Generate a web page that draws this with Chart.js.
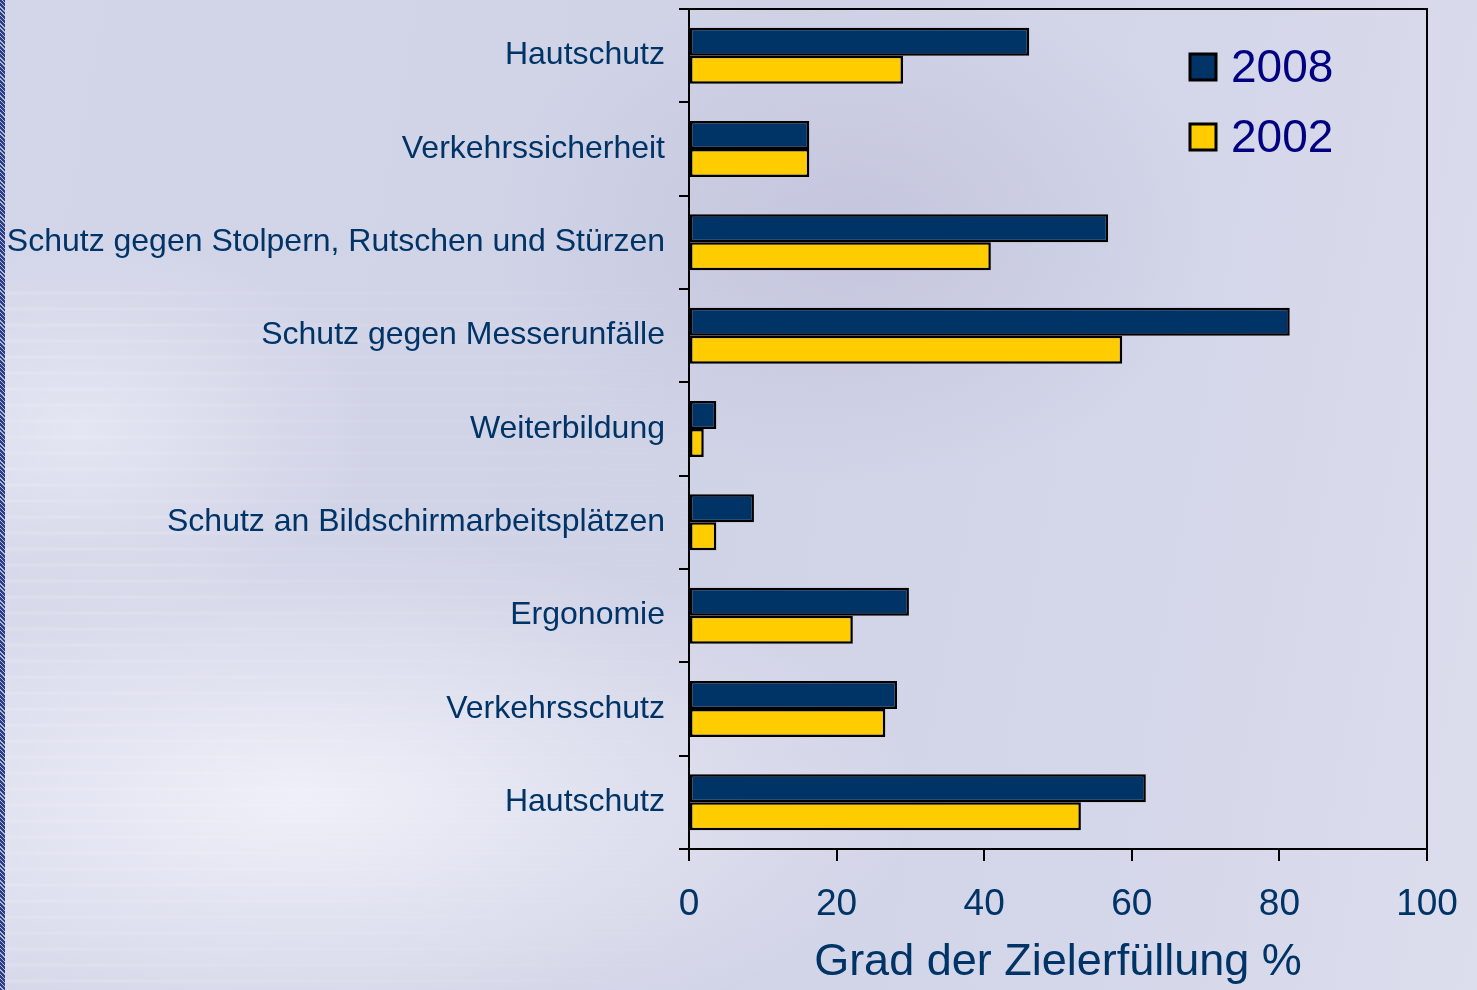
<!DOCTYPE html>
<html lang="de">
<head>
<meta charset="UTF-8">
<title>Grad der Zielerfüllung</title>
<style>
  html,body{margin:0;padding:0;width:1477px;height:990px;overflow:hidden}
  body{
    position:relative;
    background:
      radial-gradient(ellipse 520px 360px at 860px 230px, rgba(186,187,214,.55), rgba(186,187,214,0) 70%),
      radial-gradient(ellipse 780px 330px at 300px 800px, rgba(240,241,249,.95), rgba(240,241,249,0) 80%),
      radial-gradient(ellipse 380px 260px at 80px 430px, rgba(232,234,245,.8), rgba(232,234,245,0) 75%),
      linear-gradient(100deg,#d3d5e9 0%,#d0d2e6 45%,#d4d6e9 75%,#dcdeee 100%);
  }
  #streaks{
    position:absolute;left:0;top:280px;width:850px;height:710px;
    background:repeating-linear-gradient(to bottom,rgba(255,255,255,0) 0 10px,rgba(255,255,255,.16) 13px,rgba(255,255,255,0) 16px);
    -webkit-mask-image:linear-gradient(to right,#000 0%,rgba(0,0,0,.5) 45%,transparent 100%);
    mask-image:linear-gradient(to right,#000 0%,rgba(0,0,0,.5) 45%,transparent 100%);
  }
  #rand{
    position:absolute;left:0;top:0;width:5px;height:990px;
    background:
      repeating-linear-gradient(45deg,#2c3f86 0 2px,#aeb6d6 2px 3px),
      #3b4e92;
  }
  #wrap{position:absolute;left:0;top:0;width:1477px;height:990px}
</style>
</head>
<body>
<div id="streaks"></div>
<div id="rand"></div>
<div id="wrap"><canvas id="chart" width="1477" height="990"></canvas></div>

<script src="https://cdn.jsdelivr.net/npm/chart.js@4.4.0"></script>
<script>
/* ---------- Daten ---------- */
const kategorien = [
  'Hautschutz',
  'Verkehrssicherheit',
  'Schutz gegen Stolpern, Rutschen und Stürzen',
  'Schutz gegen Messerunfälle',
  'Weiterbildung',
  'Schutz an Bildschirmarbeitsplätzen',
  'Ergonomie',
  'Verkehrsschutz',
  'Hautschutz'
];
const werte2008 = [46.1, 16.3, 56.8, 81.4, 3.7, 8.8, 29.8, 28.2, 61.9];
const werte2002 = [29.0, 16.3, 40.9, 58.7, 2.0, 3.7, 22.2, 26.6, 53.1];
const jahre     = ['2008', '2002'];
const achsenTitel = 'Grad der Zielerfüllung %';

/* ---------- Stil ---------- */
const BLAU = '#003366', GELB = '#ffcc00', TEXT = '#003366';
const FONT = '"Liberation Sans", Arial, sans-serif';

/* Rahmen rechts/oben um die Zeichenfläche */
const rahmen = {
  id:'rahmen',
  afterDatasetsDraw(chart){
    const {ctx, chartArea:a} = chart;
    ctx.save();
    ctx.strokeStyle = '#000'; ctx.lineWidth = 2;
    ctx.beginPath();
    ctx.moveTo(a.left, a.top); ctx.lineTo(a.right, a.top);
    ctx.lineTo(a.right, a.bottom);
    ctx.stroke();
    ctx.restore();
  }
};

/* Legende innerhalb der Zeichenfläche */
const legende = {
  id:'legende',
  afterDatasetsDraw(chart){
    const {ctx} = chart;
    ctx.save();
    ctx.font = '46px ' + FONT;
    ctx.textBaseline = 'middle';
    chart.data.datasets.forEach((ds, i) => {
      const y = 67 + i * 70;
      ctx.fillStyle = ds.backgroundColor;
      ctx.strokeStyle = '#000'; ctx.lineWidth = 3;
      ctx.fillRect(1190, y - 13, 26, 26);
      ctx.strokeRect(1190, y - 13, 26, 26);
      ctx.fillStyle = '#000080';
      ctx.fillText(ds.label, 1231, y + 2);
    });
    ctx.restore();
  }
};

new Chart(document.getElementById('chart'), {
  type:'bar',
  data:{
    labels:kategorien,
    datasets:[
      {label:jahre[0], data:werte2008, backgroundColor:BLAU, borderColor:'#000', borderWidth:2.5, borderSkipped:false},
      {label:jahre[1], data:werte2002, backgroundColor:GELB, borderColor:'#000', borderWidth:2.5, borderSkipped:false}
    ]
  },
  options:{
    indexAxis:'y',
    responsive:false,
    animation:false,
    layout:{padding:{left:0, right:50, top:9, bottom:0}},
    datasets:{bar:{categoryPercentage:0.6, barPercentage:1}},
    plugins:{legend:{display:false}, tooltip:{enabled:false}},
    scales:{
      x:{
        min:0, max:100,
        ticks:{stepSize:20, color:TEXT, font:{family:FONT, size:37}, padding:22, maxRotation:0},
        grid:{drawOnChartArea:false, color:'#000', lineWidth:2, tickLength:12},
        border:{display:true, color:'#000', width:2},
        title:{display:true, text:achsenTitel, color:TEXT, font:{family:FONT, size:45, lineHeight:1.2}, padding:{top:0, bottom:0}},
        afterFit(s){ s.height = 141; s.paddingLeft = 0; s.paddingRight = 0; }
      },
      y:{
        ticks:{color:TEXT, font:{family:FONT, size:32}, padding:14, autoSkip:false},
        grid:{drawOnChartArea:false, offset:true, color:'#000', lineWidth:2, tickLength:10},
        border:{display:true, color:'#000', width:2},
        afterFit(s){ s.width = 689; s.paddingTop = 0; s.paddingBottom = 0; }
      }
    }
  },
  plugins:[rahmen, legende]
});
</script>
</body>
</html>
